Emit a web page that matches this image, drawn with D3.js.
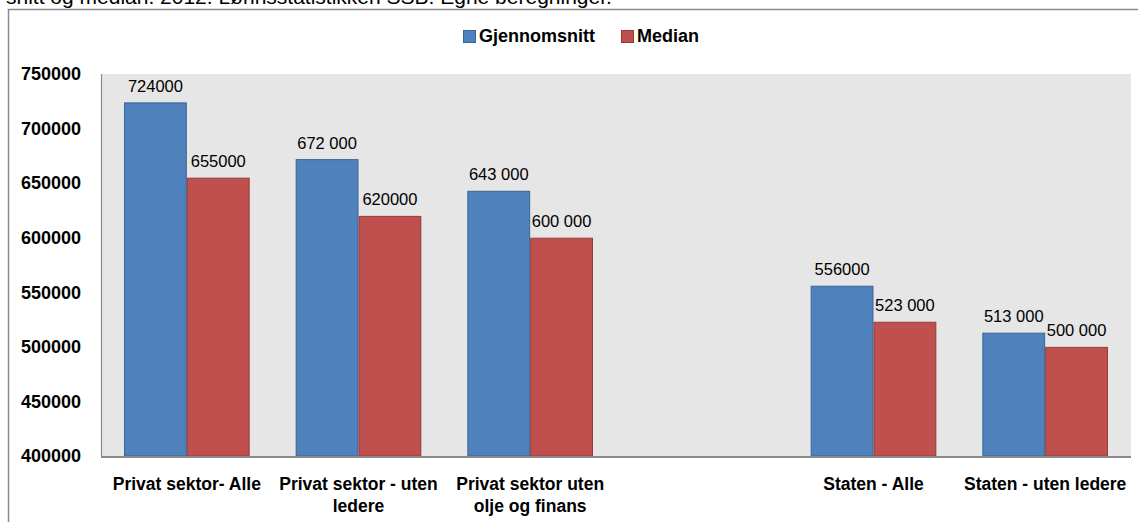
<!DOCTYPE html>
<html>
<head>
<meta charset="utf-8">
<script src="https://cdn.jsdelivr.net/npm/d3@7"></script>
<style>
  body { margin: 0; background: #fff; }
  svg { display: block; font-family: "Liberation Sans", Arial, sans-serif; }
</style>
</head>
<body>
<script>
// data
const categories = ["Privat sektor- Alle", "Privat sektor - uten ledere", "Privat sektor uten olje og finans", "", "Staten - Alle", "Staten - uten ledere"];
const categoryLines = [["Privat sektor- Alle"], ["Privat sektor - uten", "ledere"], ["Privat sektor uten", "olje og finans"], [], ["Staten - Alle"], ["Staten - uten ledere"]];
const seriesNames = ["Gjennomsnitt", "Median"];
const gjennomsnitt = [724000, 672000, 643000, null, 556000, 513000];
const median = [655000, 620000, 600000, null, 523000, 500000];
const gjennomsnittLabels = ["724000", "672 000", "643 000", "", "556000", "513 000"];
const medianLabels = ["655000", "620000", "600 000", "", "523 000", "500 000"];
const yTicks = [400000, 450000, 500000, 550000, 600000, 650000, 700000, 750000];
const titleText = "snitt og median. 2012. Lønnsstatistikken SSB. Egne beregninger.";

const colors = { fill: ["#4f81bd", "#c0504d"], stroke: ["#3a6597", "#943c3a"] };

const W = 1138, H = 522;
const margin = { top: 74, right: 7, bottom: 66, left: 101 },
    width = W - margin.left - margin.right,
    height = H - margin.top - margin.bottom;

const root = d3.select("body").append("svg")
    .attr("width", W)
    .attr("height", H);

// cut-off title line at the very top
root.append("text")
    .attr("x", 6)
    .attr("y", 4)
    .attr("font-size", 21)
    .attr("fill", "#000")
    .text(titleText);

// chart frame
root.append("rect")
    .attr("x", 8.5).attr("y", 9.5)
    .attr("width", 1140).attr("height", 540)
    .attr("fill", "#fff")
    .attr("stroke", "#8a8a8a")
    .attr("stroke-width", 1.5);

// legend
const legend = root.append("g").attr("transform", "translate(463,30)");
const legendX = [0, 158];
seriesNames.forEach((name, i) => {
    const g = legend.append("g").attr("transform", "translate(" + legendX[i] + ",0)");
    g.append("rect")
        .attr("x", 0.5).attr("y", 0.5)
        .attr("width", 12).attr("height", 12)
        .attr("fill", colors.fill[i])
        .attr("stroke", colors.stroke[i]);
    g.append("text")
        .attr("x", 16).attr("y", 12)
        .attr("font-size", 18)
        .attr("font-weight", "bold")
        .text(name);
});

const svg = root.append("g")
    .attr("transform", "translate(" + margin.left + "," + margin.top + ")");

const x = d3.scaleBand()
    .domain(d3.range(categories.length))
    .range([0, width])
    .paddingInner(0.268)
    .paddingOuter(0.134);

const xs = d3.scaleBand()
    .domain([0, 1])
    .range([0, x.bandwidth()]);

const y = d3.scaleLinear()
    .domain([400000, 750000])
    .range([height, 0]);

svg.append("rect")
    .attr("width", width)
    .attr("height", height)
    .attr("fill", "#e6e6e6");

const series = [gjennomsnitt, median];
const labels = [gjennomsnittLabels, medianLabels];

series.forEach((vals, s) => {
    const data = vals.map((v, i) => ({ i: i, v: v, label: labels[s][i] })).filter(d => d.v !== null);
    svg.append("g").selectAll("rect")
        .data(data)
        .join("rect")
        .attr("x", d => x(d.i) + xs(s) + 0.5)
        .attr("y", d => y(d.v) + 0.5)
        .attr("width", xs.bandwidth() - 1)
        .attr("height", d => y(400000) - y(d.v) - 0.5)
        .attr("fill", colors.fill[s])
        .attr("stroke", colors.stroke[s])
        .attr("stroke-width", 1);
    svg.append("g").selectAll("text")
        .data(data)
        .join("text")
        .attr("x", d => x(d.i) + xs(s) + xs.bandwidth() / 2)
        .attr("y", d => y(d.v) - 10.5)
        .attr("text-anchor", "middle")
        .attr("font-size", 16.5)
        .attr("fill", "#000")
        .text(d => d.label);
});

// y axis
const yAxis = svg.append("g")
    .call(d3.axisLeft(y).tickValues(yTicks).tickSize(0).tickPadding(20).tickFormat(d3.format("d")));
yAxis.select(".domain").remove();
yAxis.selectAll("text")
    .attr("font-size", 18)
    .attr("font-weight", "bold")
    .attr("font-family", "Liberation Sans, Arial, sans-serif")
    .attr("fill", "#000");

// plot area edges
svg.append("line")
    .attr("x1", 0.5).attr("x2", 0.5)
    .attr("y1", 0).attr("y2", height)
    .attr("stroke", "#8a8a8a").attr("stroke-width", 1.2);
svg.append("line")
    .attr("x1", 0).attr("x2", width)
    .attr("y1", height + 1).attr("y2", height + 1)
    .attr("stroke", "#8a8a8a").attr("stroke-width", 2);

// category labels
const cat = svg.append("g").selectAll("text")
    .data(categoryLines.map((lines, i) => ({ i: i, lines: lines })))
    .join("text")
    .attr("x", d => x(d.i) + x.bandwidth() / 2)
    .attr("y", height + 34)
    .attr("text-anchor", "middle")
    .attr("font-size", 17.5)
    .attr("font-weight", "bold")
    .attr("fill", "#000");
cat.selectAll("tspan")
    .data(d => d.lines)
    .join("tspan")
    .attr("x", function () { return d3.select(this.parentNode).attr("x"); })
    .attr("dy", (d, j) => j === 0 ? 0 : 22)
    .text(d => d);
</script>
</body>
</html>
